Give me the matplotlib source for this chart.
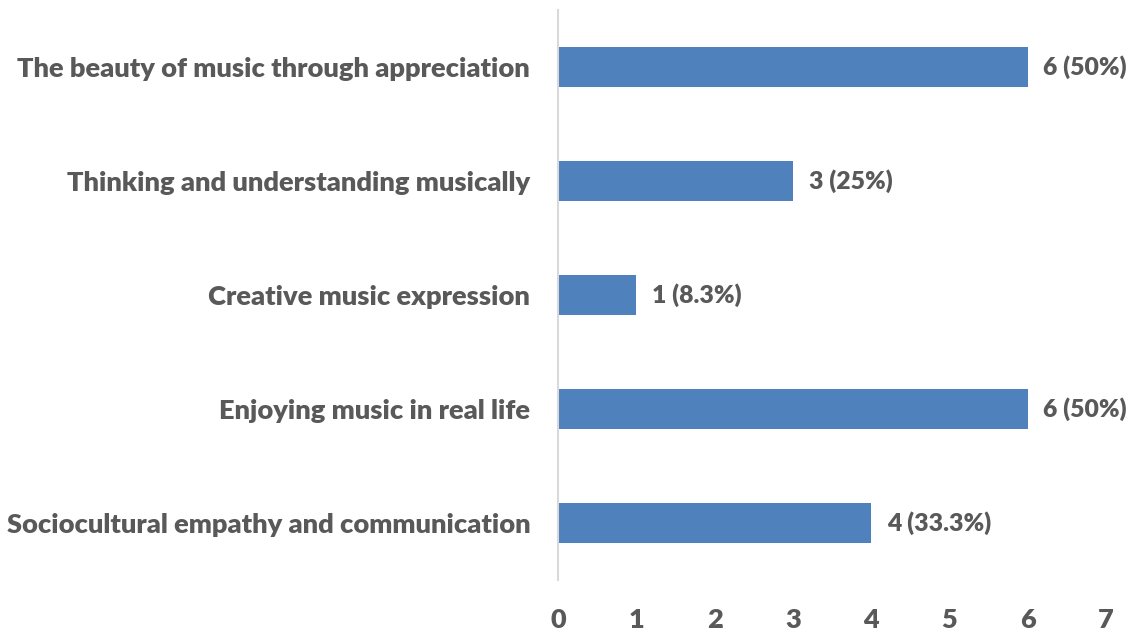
import matplotlib
matplotlib.use("Agg")
import matplotlib.pyplot as plt

categories = [
    "Sociocultural empathy and communication",
    "Enjoying music in real life",
    "Creative music expression",
    "Thinking and understanding musically",
    "The beauty of music through appreciation",
]
counts = [4, 6, 1, 3, 6]
percent_labels = ["33.3%", "50%", "8.3%", "25%", "50%"]
x_ticks = [0, 1, 2, 3, 4, 5, 6, 7]

plt.rcParams["font.family"] = ["Lato", "DejaVu Sans"]
text_color = "#595959"
bar_color = "#4F81BD"
weight = "heavy"

fig = plt.figure(figsize=(11.33, 6.32), dpi=100)
ax = fig.add_axes([0.4925, 0.0823, 0.4837, 0.902])

positions = list(range(len(categories)))
ax.barh(positions, counts, height=0.35, color=bar_color)

for y, c, p in zip(positions, counts, percent_labels):
    ax.text(c + 0.2, y, f"{c} ({p})", va="center", ha="left",
            fontsize=17.8, fontweight=weight, color=text_color)

ax.set_xlim(0, 7)
ax.set_ylim(-0.5, len(categories) - 0.5)
ax.set_yticks(positions)
ax.set_yticklabels(categories, fontsize=19.6, fontweight=weight, color=text_color)
ax.set_xticks(x_ticks)
ax.set_xticklabels([str(t) for t in x_ticks], fontsize=19.5, fontweight=weight, color=text_color)
ax.tick_params(axis="both", length=0)
ax.tick_params(axis="y", pad=20)
ax.tick_params(axis="x", pad=20)

for side in ["top", "right", "bottom"]:
    ax.spines[side].set_visible(False)
ax.spines["left"].set_color("#D9D9D9")
ax.spines["left"].set_linewidth(1.5)

fig.savefig("out.png", dpi=100)
